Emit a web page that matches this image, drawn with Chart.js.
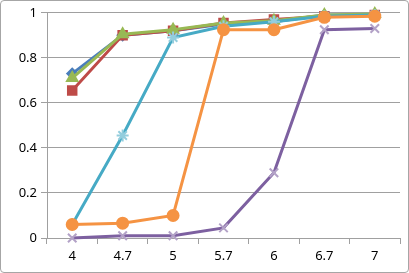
<!DOCTYPE html>
<html>
<head>
<meta charset="utf-8">
<script src="https://cdn.jsdelivr.net/npm/chart.js"></script>
<style>
  html, body { margin: 0; padding: 0; background: #fff; }
  #wrap { position: relative; width: 407px; height: 271px; border: 1px solid #a6a6a6; border-radius: 4px; }
</style>
</head>
<body>
<div id="wrap"><canvas id="curveChart"></canvas></div>
<script>
    const categories = ['4', '4.7', '5', '5.7', '6', '6.7', '7'];
    const seriesBlue = [0.73, 0.90, 0.92, 0.95, 0.96, 0.99, 0.99];
    const seriesRed = [0.655, 0.90, 0.92, 0.955, 0.97, 0.985, 0.99];
    const seriesGreen = [0.71, 0.905, 0.925, 0.955, 0.965, 0.99, 0.995];
    const seriesPurple = [0.0, 0.01, 0.01, 0.045, 0.29, 0.925, 0.93];
    const seriesTeal = [0.06, 0.455, 0.89, 0.94, 0.96, 0.985, 0.99];
    const seriesOrange = [0.06, 0.066, 0.10, 0.925, 0.925, 0.98, 0.985];
    const yTicks = [0, 0.2, 0.4, 0.6, 0.8, 1];

    function line(data, color, marker, fill, size, order) {
        return {
            data: data,
            borderColor: color,
            backgroundColor: fill,
            pointBackgroundColor: fill,
            pointBorderColor: fill,
            pointStyle: marker,
            pointRadius: size,
            pointBorderWidth: 2,
            borderWidth: 3,
            tension: 0,
            clip: false,
            order: order
        };
    }

    const canvas = document.getElementById('curveChart');

    if (canvas) {new Chart(canvas, {
        type: 'line',
        data: {
            labels: categories,
            datasets: [
                line(seriesBlue, '#4a7ebb', 'rectRot', '#4a7ebb', 5, 6),
                line(seriesRed, '#be4b48', 'rect', '#be4b48', 6, 5),
                line(seriesGreen, '#98b954', 'triangle', '#98b954', 6, 4),
                line(seriesPurple, '#7d60a0', 'crossRot', '#b3a2c7', 6, 3),
                line(seriesTeal, '#46aac5', 'star', '#93cddd', 6, 2),
                line(seriesOrange, '#f59343', 'circle', '#f59343', 5.5, 1)
            ]
        },
        options: {
            responsive: true,
            maintainAspectRatio: false,
            animation: false,
            layout: {
                padding: { left: 0, right: 6, top: 8, bottom: 0 }
            },
            plugins: {
                legend: { display: false },
                tooltip: { enabled: false }
            },
            scales: {
                x: {
                    offset: true,
                    grid: {
                        offset: true,
                        drawOnChartArea: false,
                        color: '#a0a0a0',
                        tickLength: 6
                    },
                    border: { color: '#a0a0a0' },
                    ticks: {
                        color: '#000',
                        font: { family: 'Noto Sans', size: 13 },
                        padding: 4
                    },
                    afterFit: function (scale) { scale.height = 34; }
                },
                y: {
                    min: 0,
                    max: 1,
                    afterBuildTicks: function (scale) {
                        scale.ticks = yTicks.map(function (v) { return { value: v }; });
                    },
                    grid: {
                        color: '#a0a0a0',
                        tickLength: 6
                    },
                    border: { color: '#a0a0a0' },
                    ticks: {
                        color: '#000',
                        font: { family: 'Noto Sans', size: 13 },
                        padding: 4,
                        callback: function (value) { return String(value); }
                    },
                    afterFit: function (scale) { scale.width = 46; }
                }
            }
        }
    })};
</script>
</body>
</html>
